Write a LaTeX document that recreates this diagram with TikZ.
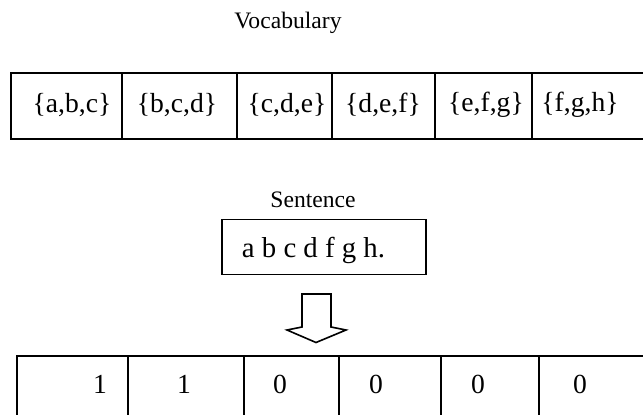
\documentclass[tikz,border=0pt]{standalone}
\usepackage{fontspec}
\setmainfont{Liberation Serif}
\begin{document}
\begin{tikzpicture}[x=0.5pt,y=-0.5pt,
  cellbox/.style={draw=black,line width=0.85pt,inner sep=0pt,outer sep=0pt},
  celltext/.style={inner sep=0pt,font=\fontsize{13.8}{16}\selectfont},
  caption/.style={inner sep=0pt,font=\fontsize{11.8}{14}\selectfont},
  hollowarrow/.style={draw=black,line width=0.8pt,fill=white,line join=miter}]
\useasboundingbox (0,0) rectangle (643,414);
\clip (0,0) rectangle (643,414);

% vocabulary title and table
\node[caption] (vocab) at (288,23) {Vocabulary};
\foreach \i/\l/\r in {1/11/122,2/122/237,3/237/332,4/332/435,5/435/532,6/532/660}{
  \node[cellbox,minimum width={(\r-\l)*0.5pt},minimum height=33pt,anchor=north west]
    (v\i) at (\l,73) {};
}
\node[celltext] (vt1) at (72,105)  {\{a,b,c\}};
\node[celltext] (vt2) at (177,105) {\{b,c,d\}};
\node[celltext] (vt3) at (287,105) {\{c,d,e\}};
\node[celltext] (vt4) at (383,105) {\{d,e,f\}};
\node[celltext] (vt5) at (486,105) {\{e,f,g\}};
\node[celltext] (vt6) at (580,105) {\{f,g,h\}};

% sentence box
\node[caption] (sentlabel) at (313,200) {Sentence};
\node[cellbox,minimum width=102pt,minimum height=27.5pt,anchor=north west]
  (sentence) at (222,219.5) {};
\node[inner sep=0pt,font=\fontsize{14.4}{17}\selectfont] (sentext) at (313.5,250) {a b c d f g h.};

% hollow down arrow
\draw[hollowarrow] (302,294) -- (302,327) -- (287,330) -- (316,342.5)
  -- (346,330) -- (331,327) -- (331,294) -- cycle;

% feature vector table
\foreach \i/\l/\r in {1/17/128,2/128/244,3/244/339,4/339/441,5/441/539,6/539/660}{
  \node[cellbox,minimum width={(\r-\l)*0.5pt},minimum height=40pt,anchor=north west]
    (f\i) at (\l,356) {};
}
\node[celltext] (ft1) at (100,384) {1};
\node[celltext] (ft2) at (184,384) {1};
\node[celltext] (ft3) at (280,384) {0};
\node[celltext] (ft4) at (376,384) {0};
\node[celltext] (ft5) at (478,384) {0};
\node[celltext] (ft6) at (580,384) {0};
\end{tikzpicture}
\end{document}
